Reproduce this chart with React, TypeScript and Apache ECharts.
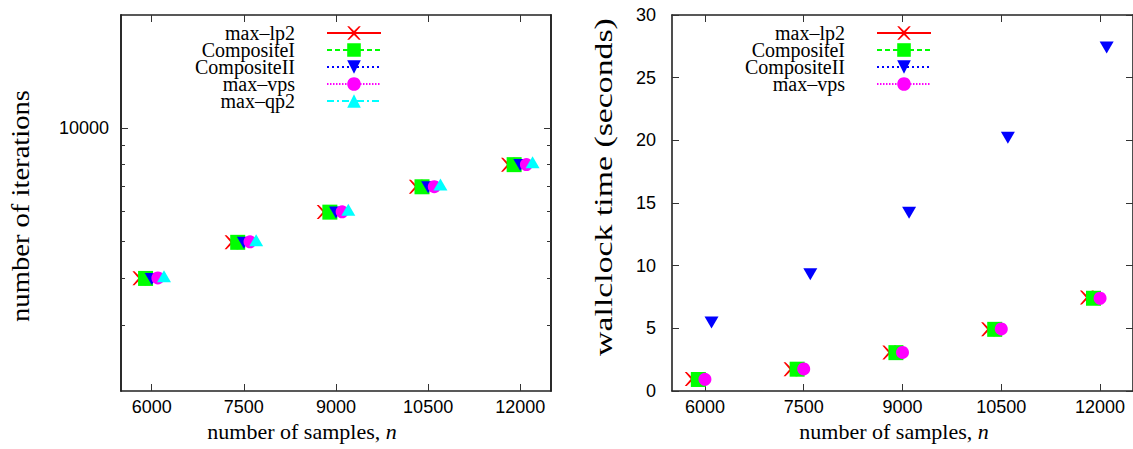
import React, { useEffect, useRef } from "react";
import * as echarts from "echarts";

// ---------- data ----------
const sampleTicks = [6000, 7500, 9000, 10500, 12000];
const iterMajorTicks = [10000];
const iterMinorTicks = [3000, 4000, 5000, 6000, 7000, 8000, 9000];

// left panel: number of iterations (x values are shifted copies of n)
const itLp2X = [5800, 7300, 8800, 10300, 11800];
const itLp2Y = [3990, 4975, 5985, 6990, 8000];
const itC1X = [5900, 7400, 8900, 10400, 11900];
const itC1Y = [3985, 4971, 5980, 6985, 7999];
const itC2X = [6000, 7500, 9000, 10500, 12000];
const itC2Y = [3970, 4960, 5965, 6970, 7985];
const itVpsX = [6100, 7600, 9100, 10600, 12100];
const itVpsY = [3996, 4985, 5990, 6990, 8004];
const itQp2X = [6200, 7700, 9200, 10700, 12200];
const itQp2Y = [4039, 5033, 6073, 7085, 8113];

// right panel: wallclock time (seconds)
const tLp2X = [5800, 7300, 8800, 10300, 11800];
const tLp2Y = [0.96, 1.74, 3.07, 4.93, 7.46];
const tC1X = [5900, 7400, 8900, 10400, 11900];
const tC1Y = [0.92, 1.74, 3.06, 4.92, 7.4];
const tC2X = [6100, 7600, 9100, 10600, 12100];
const tC2Y = [5.47, 9.32, 14.22, 20.2, 27.4];
const tVpsX = [6000, 7500, 9000, 10500, 12000];
const tVpsY = [0.93, 1.76, 3.08, 4.95, 7.4];

const names = ["max\u2013lp2", "CompositeI", "CompositeII", "max\u2013vps", "max\u2013qp2"];

// ---------- styles ----------
const SANS = "'Liberation Sans', Arial, sans-serif";
const SERIF = "'Liberation Serif', 'Times New Roman', serif";
const X_PATH =
  "path://M0 0L2 0L7 5L12 0L14 0L8 7L14 14L12 14L7 9L2 14L0 14L6 7Z";

const styles = [
  { color: "#ff0000", symbol: X_PATH, size: 14, rotate: 0, dash: "solid" as any },
  { color: "#00ff00", symbol: "rect", size: 15, rotate: 0, dash: [5, 3] },
  { color: "#0000ff", symbol: "triangle", size: [14, 12], rotate: 180, dash: [2, 3] },
  { color: "#ff00ff", symbol: "circle", size: 13, rotate: 0, dash: [1.5, 1.5] },
  { color: "#00ffff", symbol: "triangle", size: [14, 12], rotate: 0, dash: [7, 3, 2, 3] },
];

function pairs(xs: number[], ys: number[]) {
  return xs.map((x, i) => [x, ys[i]]);
}

function mkSeries(k: number, xs: number[], ys: number[], xi: number, yi: number) {
  const s = styles[k];
  return {
    type: "line",
    name: names[k],
    xAxisIndex: xi,
    yAxisIndex: yi,
    data: pairs(xs, ys),
    symbol: s.symbol,
    symbolSize: s.size,
    symbolRotate: s.rotate,
    showSymbol: true,
    showAllSymbol: true,
    silent: true,
    lineStyle: { color: s.color, opacity: 0, width: 2, type: s.dash },
    itemStyle: { color: s.color, opacity: 1 },
    emphasis: { disabled: true },
  };
}

const axisLine = { show: true, onZero: false, lineStyle: { color: "#222", width: 1.6 } };
const tickLine = { color: "#333", width: 1 };
const labelBase = { fontSize: 18, fontFamily: SANS, color: "#000" };

function xAxisPair(grid: number) {
  return [
    {
      gridIndex: grid,
      type: "value",
      min: 5500,
      max: 12500,
      position: "bottom",
      axisLine,
      splitLine: { show: false },
      axisTick: { show: true, inside: true, length: 7, customValues: sampleTicks, lineStyle: tickLine },
      axisLabel: { ...labelBase, show: true, customValues: sampleTicks, margin: 7, formatter: (v: number) => String(v) },
    },
    {
      gridIndex: grid,
      type: "value",
      min: 5500,
      max: 12500,
      position: "top",
      axisLine,
      splitLine: { show: false },
      axisTick: { show: true, inside: true, length: 7, customValues: sampleTicks, lineStyle: tickLine },
      axisLabel: { show: false },
    },
  ];
}

function logAxis(pos: string, vals: number[], len: number, label: boolean) {
  return {
    gridIndex: 0,
    type: "log",
    logBase: 10,
    min: 2000,
    max: 20000,
    position: pos,
    axisLine,
    splitLine: { show: false },
    minorTick: { show: false },
    axisTick: { show: true, inside: true, length: len, customValues: vals, lineStyle: tickLine },
    axisLabel: label
      ? { ...labelBase, show: true, customValues: vals, margin: 12, formatter: (v: number) => String(v) }
      : { show: false },
  };
}

function timeAxis(pos: string, label: boolean) {
  return {
    gridIndex: 1,
    type: "value",
    min: 0,
    max: 30,
    interval: 5,
    position: pos,
    axisLine,
    splitLine: { show: false },
    axisTick: { show: true, inside: true, length: 7, lineStyle: tickLine },
    axisLabel: label ? { ...labelBase, show: true, margin: 16 } : { show: false },
  };
}

function legendOpt(right: number, data: string[]) {
  return {
    show: true,
    orient: "vertical",
    right,
    top: 23,
    padding: 0,
    itemGap: -3,
    itemWidth: 54,
    itemHeight: 17,
    align: "right",
    selectedMode: false,
    data,
    lineStyle: { width: 2, opacity: 1 },
    textStyle: { fontFamily: SERIF, fontSize: 20, lineHeight: 18, color: "#000", padding: [0, 27, 0, 0] },
  };
}

function xTitle(x: number) {
  return {
    type: "text",
    x,
    y: 431,
    style: {
      text: "number of samples, {i|n}",
      fontFamily: SERIF,
      fontSize: 22,
      fill: "#000",
      align: "center",
      verticalAlign: "middle",
      rich: { i: { fontStyle: "italic", fontFamily: SERIF, fontSize: 22 } },
    },
  };
}

export default function App() {
  const ref = useRef<HTMLDivElement>(null);
  useEffect(() => {
    if (!ref.current) return;
    const chart = echarts.init(ref.current, undefined, { renderer: "svg" });
    const option: any = {
      animation: false,
      backgroundColor: "#ffffff",
      grid: [
        { left: 121, right: 582, top: 15, bottom: 58, containLabel: false },
        { left: 672, right: -1, top: 15, bottom: 58, containLabel: false },
      ],
      xAxis: [...xAxisPair(0), ...xAxisPair(1)],
      yAxis: [
        logAxis("left", iterMajorTicks, 7, true),
        logAxis("left", iterMinorTicks, 4, false),
        logAxis("right", iterMajorTicks, 7, false),
        logAxis("right", iterMinorTicks, 4, false),
        timeAxis("left", true),
        timeAxis("right", false),
      ],
      legend: [legendOpt(751, names), legendOpt(201, names.slice(0, 4))],
      series: [
        mkSeries(0, itLp2X, itLp2Y, 0, 0),
        mkSeries(1, itC1X, itC1Y, 0, 0),
        mkSeries(2, itC2X, itC2Y, 0, 0),
        mkSeries(3, itVpsX, itVpsY, 0, 0),
        mkSeries(4, itQp2X, itQp2Y, 0, 0),
        mkSeries(0, tLp2X, tLp2Y, 2, 4),
        mkSeries(1, tC1X, tC1Y, 2, 4),
        mkSeries(2, tC2X, tC2Y, 2, 4),
        mkSeries(3, tVpsX, tVpsY, 2, 4),
      ],
      graphic: [
        xTitle(302),
        xTitle(894),
        {
          type: "text",
          x: 20,
          y: 206,
          rotation: Math.PI / 2,
          scaleX: 1.1,
          style: {
            text: "number of iterations",
            fontFamily: SERIF,
            fontSize: 26,
            fill: "#000",
            align: "center",
            verticalAlign: "middle",
          },
        },
        {
          type: "text",
          x: 603,
          y: 187,
          rotation: Math.PI / 2,
          scaleX: 1.3,
          style: {
            text: "wallclock time (seconds)",
            fontFamily: SERIF,
            fontSize: 26,
            fill: "#000",
            align: "center",
            verticalAlign: "middle",
          },
        },
      ],
    };
    chart.setOption(option);
    return () => chart.dispose();
  }, []);
  return (
    <div
      ref={ref}
      style={{ position: "absolute", left: 0, top: 0, width: 1133, height: 449 }}
    />
  );
}
